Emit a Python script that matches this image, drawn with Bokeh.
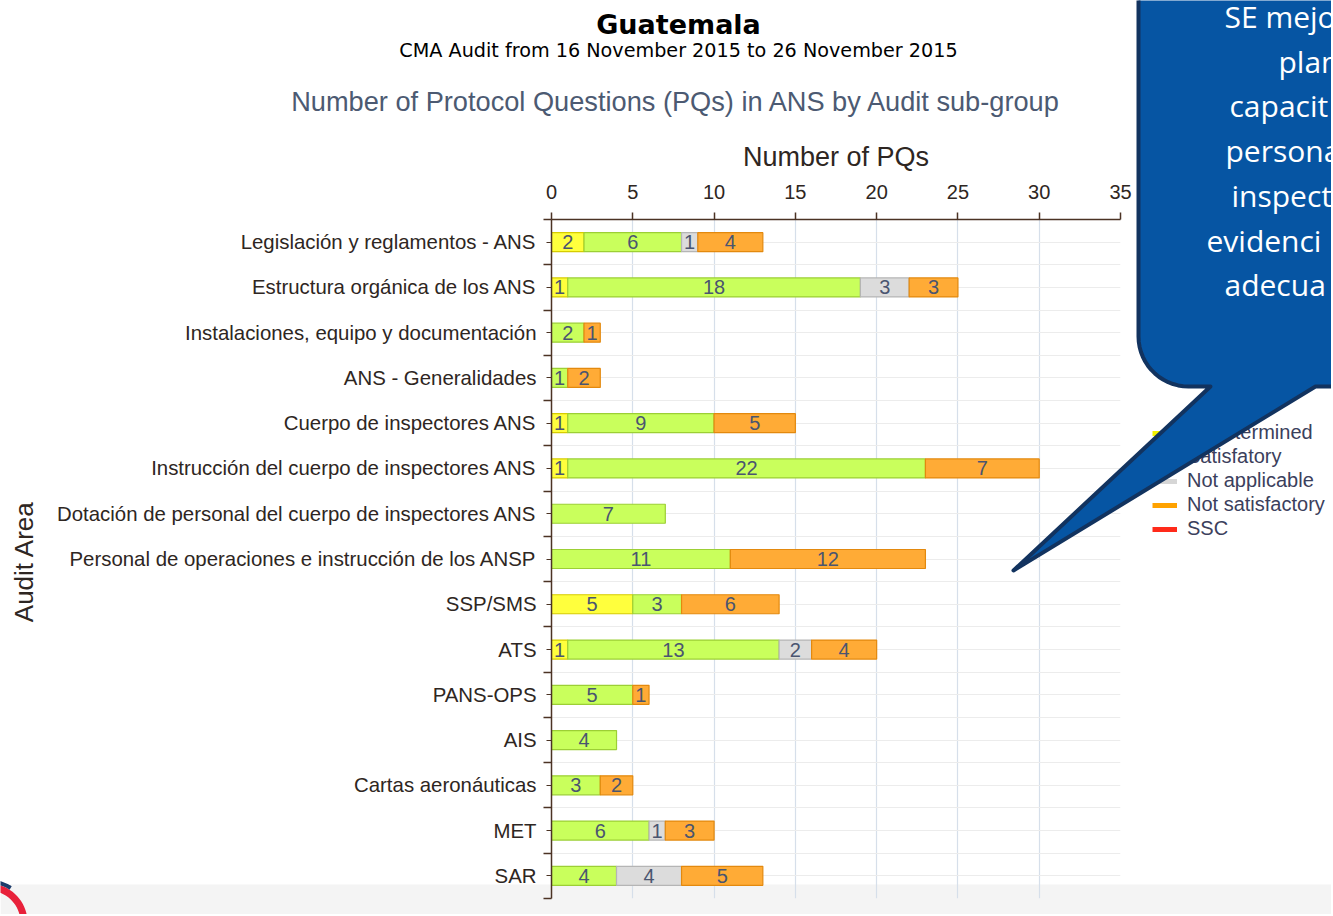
import numpy as np
from bokeh.plotting import figure
from bokeh.layouts import column
from bokeh.models import (Range1d, FixedTicker, Legend, LegendItem, ColumnDataSource)
from bokeh.core.properties import value
from bokeh.embed import file_html
from bokeh.resources import INLINE

# ---------------- data ----------------
categories = [
    "Legislación y reglamentos - ANS",
    "Estructura orgánica de los ANS",
    "Instalaciones, equipo y documentación",
    "ANS - Generalidades",
    "Cuerpo de inspectores ANS",
    "Instrucción del cuerpo de inspectores ANS",
    "Dotación de personal del cuerpo de inspectores ANS",
    "Personal de operaciones e instrucción de los ANSP",
    "SSP/SMS",
    "ATS",
    "PANS-OPS",
    "AIS",
    "Cartas aeronáuticas",
    "MET",
    "SAR",
]
undetermined     = [2, 1, 0, 0, 1, 1, 0, 0, 5, 1, 0, 0, 0, 0, 0]
satisfactory     = [6, 18, 2, 1, 9, 22, 7, 11, 3, 13, 5, 4, 3, 6, 4]
not_applicable   = [1, 3, 0, 0, 0, 0, 0, 0, 0, 2, 0, 0, 0, 1, 4]
not_satisfactory = [4, 3, 1, 2, 5, 7, 0, 12, 6, 4, 1, 0, 2, 3, 5]
ssc              = [0, 0, 0, 0, 0, 0, 0, 0, 0, 0, 0, 0, 0, 0, 0]
series_names = ["Undetermined", "Satisfatory", "Not applicable", "Not satisfactory", "SSC"]
x_ticks = [0, 5, 10, 15, 20, 25, 30, 35]

title_text = "Guatemala"
subtitle_text = "CMA Audit from 16 November 2015 to 26 November 2015"
chart_title_text = "Number of Protocol Questions (PQs) in ANS by Audit sub-group"
x_title = "Number of PQs"
y_title = "Audit Area"
callout_lines = ["SE mejo", "plan", "capacit", "persona", "inspect", "evidenci", "adecua"]

# ---------------- styles ----------------
bar_fills = ["#ffff3d", "#c9ff5c", "#dcdcdc", "#ffab36", "#ff2a1a"]
bar_edges = ["#d6cc00", "#9ccf35", "#b5b5b5", "#e3890e", "#cc0000"]
legend_cols = ["#f2f200", "#b5f043", "#d6d6d6", "#ffa200", "#ff2a1a"]
AXIS_COL = "#4b3324"
TXT_COL = "#2e2622"

W, H = 1331, 914


def deco_figure(fill_alpha):
    f = figure(width=W, height=H, output_backend="svg", toolbar_location=None,
               x_range=Range1d(0, W), y_range=Range1d(H, 0),
               x_axis_type=None, y_axis_type=None, min_border=0)
    f.frame_align = False
    f.outline_line_color = None
    f.border_fill_color = "white"
    f.background_fill_color = "white"
    f.border_fill_alpha = fill_alpha
    f.background_fill_alpha = fill_alpha
    f.grid.visible = False
    return f


# ================= background layer: slide footer, titles, legend =================
bg = deco_figure(1.0)
bg.quad(left=0, right=W, top=884, bottom=H, fill_color="#f4f4f4", line_color=None)


def ring(ccx, ccy, r1, r2, a0, a1):
    t = np.linspace(a0, a1, 30)
    xs = list(ccx + r2 * np.cos(t)) + list(ccx + r1 * np.cos(t[::-1]))
    ys = list(ccy + r2 * np.sin(t)) + list(ccy + r1 * np.sin(t[::-1]))
    return xs, ys


rx, ry = ring(-12, 922, 32, 39, -1.9, 0.5)
bg.patch(rx, ry, fill_color="#e8213a", line_color=None)
rx2, ry2 = ring(-12, 922, 39, 43, -1.9, -1.0)
bg.patch(rx2, ry2, fill_color="#1c3b6a", line_color=None)

bg.text(x=[678], y=[24], text=[title_text], text_align="center", text_baseline="middle",
        text_font=value("DejaVu Sans"), text_font_style="bold", text_font_size="27px",
        text_color="#000000")
bg.text(x=[678], y=[50], text=[subtitle_text], text_align="center", text_baseline="middle",
        text_font=value("DejaVu Sans"), text_font_size="19.2px", text_color="#000000")
bg.text(x=[676], y=[101], text=[chart_title_text], text_align="center",
        text_baseline="middle", text_font=value("Liberation Sans"),
        text_font_size="27.2px", text_color="#4c5a72")
bg.text(x=[23], y=[561], text=[y_title], angle=np.pi / 2, text_align="center",
        text_baseline="middle", text_font=value("Liberation Sans"),
        text_font_size="26px", text_color=TXT_COL)

# legend swatches: line renderers whose points lie outside the visible canvas
items = []
for name, col in zip(series_names, legend_cols):
    r = bg.line(x=[-200, -150], y=[-200, -200], line_color=col, line_width=5)
    items.append(LegendItem(label=name, renderers=[r]))
legend = Legend(items=items, location=(1152, H - 540),
                padding=0, margin=0, spacing=1, glyph_width=25, glyph_height=20,
                label_standoff=10, label_height=20,
                label_text_font="Liberation Sans", label_text_font_size="20px",
                label_text_color="#3b405c", border_line_color=None,
                background_fill_alpha=0)
bg.add_layout(legend)

# ================= chart layer =================
n = len(categories)
idx = np.arange(n)

p = figure(width=W, height=H, output_backend="svg", toolbar_location=None,
           x_range=Range1d(0, 35), y_range=Range1d(n - 0.5, -0.5),
           x_axis_location="above",
           min_border_left=551, min_border_right=W - 1120,
           min_border_top=219, min_border_bottom=H - 898)
p.frame_align = False
p.background_fill_alpha = 0
p.border_fill_alpha = 0
p.outline_line_color = None
p.styles = {"margin-top": f"-{H}px"}

xa = p.xaxis[0]
xa.ticker = FixedTicker(ticks=x_ticks)
xa.axis_label = x_title
xa.axis_label_text_font = "Liberation Sans"
xa.axis_label_text_font_size = "27px"
xa.axis_label_text_font_style = "normal"
xa.axis_label_text_color = TXT_COL
xa.axis_label_standoff = 10
xa.major_label_text_font = "Liberation Sans"
xa.major_label_text_font_size = "20px"
xa.major_label_text_color = TXT_COL
xa.major_label_standoff = 14
xa.axis_line_color = AXIS_COL
xa.axis_line_width = 1.5
xa.major_tick_line_color = AXIS_COL
xa.major_tick_line_width = 1.5
xa.major_tick_out = 7
xa.major_tick_in = 0
xa.minor_tick_line_color = None

ya = p.yaxis[0]
yticker = FixedTicker(ticks=list(idx), minor_ticks=[i - 0.5 for i in range(n + 1)])
ya.ticker = yticker
ya.major_label_overrides = {int(i): c for i, c in zip(idx, categories)}
ya.major_label_text_font = "Liberation Sans"
ya.major_label_text_font_size = "20.4px"
ya.major_label_text_color = TXT_COL
ya.major_label_standoff = 7
ya.axis_line_color = AXIS_COL
ya.axis_line_width = 1.5
ya.major_tick_line_color = AXIS_COL
ya.major_tick_out = 5
ya.major_tick_in = 0
ya.minor_tick_line_color = AXIS_COL
ya.minor_tick_line_width = 1.5
ya.minor_tick_out = 8
ya.minor_tick_in = 0

p.xgrid.ticker = xa.ticker
p.xgrid.grid_line_color = "#d6dfea"
p.xgrid.grid_line_width = 1.2
p.ygrid.ticker = yticker
p.ygrid.grid_line_color = "#ececec"
p.ygrid.minor_grid_line_color = "#ececec"

series_values = [undetermined, satisfactory, not_applicable, not_satisfactory, ssc]
left = np.zeros(n)
label_sources = []
for vals, fc, lc in zip(series_values, bar_fills, bar_edges):
    v = np.array(vals, dtype=float)
    m = v > 0
    if m.any():
        src = ColumnDataSource(dict(
            y=idx[m], left=left[m], right=(left + v)[m], mid=(left + v / 2)[m],
            label=[str(int(a)) for a in v[m]]))
        p.hbar(y="y", left="left", right="right", height=0.42, source=src,
               fill_color=fc, line_color=lc, line_width=1.2)
        label_sources.append(src)
    left = left + v

for src in label_sources:
    p.text(x="mid", y="y", text="label", source=src, text_align="center",
           text_baseline="middle", text_font=value("Liberation Sans"),
           text_font_size="20px", text_color="#4a5570")

# ================= foreground layer: callout bubble =================
fg = deco_figure(0.0)
fg.styles = {"margin-top": f"-{H}px"}
L, T, B, R, rad = 1138, -40, 386, W + 40, 50
arc_t = np.linspace(np.pi, np.pi / 2, 16)
bx = [L] + list(L + rad + rad * np.cos(arc_t)) + [1210, 1013, 1315, R, R]
by = [T] + list(B - rad + rad * np.sin(arc_t)) + [B, 570, B, B, T]
fg.patch(bx, by, fill_color="#0655a3", line_color="#12335f", line_width=4,
         line_join="round")
line_x = [1224, 1278, 1229, 1225, 1231, 1206, 1224]
line_y = [16 + 44.7 * k for k in range(len(callout_lines))]
fg.text(x=line_x, y=line_y, text=callout_lines, text_align="left",
        text_baseline="alphabetic", text_font=value("Open Sans"),
        text_font_size="30px", text_color="#ffffff")

layout = column(bg, p, fg, spacing=0)
open("out.html", "w").write(file_html(layout, INLINE))
